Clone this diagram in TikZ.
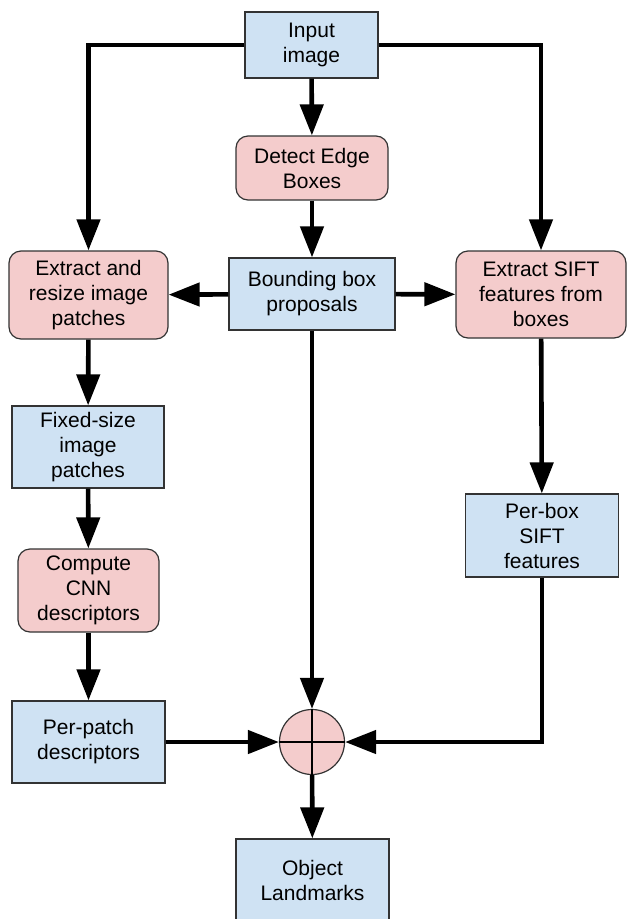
\documentclass[tikz,border=0pt]{standalone}
\usepackage{fontspec}
\setmainfont{Liberation Sans}
\usetikzlibrary{arrows.meta}
\definecolor{bluefill}{HTML}{CFE2F3}
\definecolor{redfill}{HTML}{F4CCCC}
\definecolor{edgegray}{HTML}{333333}
\begin{document}
\begin{tikzpicture}[x=1pt,y=-1pt,
  base/.style={draw=edgegray, line width=1.2pt, align=center, font=\fontsize{21}{25}\selectfont, inner sep=0pt},
  bluebox/.style={base, rectangle, fill=bluefill},
  redbox/.style={base, rectangle, rounded corners=12pt, fill=redfill},
  conn/.style={line width=4.6pt, -{Triangle[length=31pt,width=23pt]}}]
\useasboundingbox (0,0) rectangle (628,919);

\node[bluebox, minimum width=133pt, minimum height=66pt] (in) at (311.5,45) {Input\\image};
\node[redbox, minimum width=152pt, minimum height=64pt] (detect) at (312,168) {Detect Edge\\Boxes};
\node[redbox, minimum width=159pt, minimum height=88pt] (extr) at (88.5,295) {Extract and\\resize image\\patches};
\node[bluebox, minimum width=166pt, minimum height=72pt] (bbox) at (312,294) {Bounding box\\proposals};
\node[redbox, minimum width=170pt, minimum height=87pt] (sift) at (541,294.5) {Extract SIFT\\features from\\boxes};
\node[bluebox, minimum width=152pt, minimum height=82pt] (fixed) at (88,447) {Fixed-size\\image\\patches};
\node[redbox, minimum width=141pt, minimum height=83pt] (cnn) at (88.5,590.5) {Compute\\CNN\\descriptors};
\node[bluebox, minimum width=153pt, minimum height=83pt] (perbox) at (542,535.5) {Per-box\\SIFT\\features};
\node[bluebox, minimum width=153pt, minimum height=82pt] (perpatch) at (88.5,742) {Per-patch\\descriptors};
\node[base, circle, fill=redfill, minimum size=65pt] (circ) at (312,742) {};
\draw[line width=1.5pt] (circ.north) -- (circ.south) (circ.west) -- (circ.east);
\node[bluebox, minimum width=153pt, minimum height=82pt] (obj) at (312.5,880) {Object\\Landmarks};

\draw[conn] (in) -- (detect);
\draw[conn] (in.west) -| (extr.north);
\draw[conn] (in.east) -| (sift.north);
\draw[conn] (detect) -- (bbox);
\draw[conn] (bbox) -- (extr);
\draw[conn] (bbox) -- (sift);
\draw[conn] (extr) -- (fixed);
\draw[conn] (fixed) -- (cnn);
\draw[conn] (cnn) -- (perpatch);
\draw[conn] (sift) -- (perbox);
\draw[conn] (bbox) -- (circ);
\draw[conn] (perpatch) -- (circ);
\draw[conn] (perbox.south) |- (circ.east);
\draw[conn] (circ) -- (obj);
\end{tikzpicture}
\end{document}
